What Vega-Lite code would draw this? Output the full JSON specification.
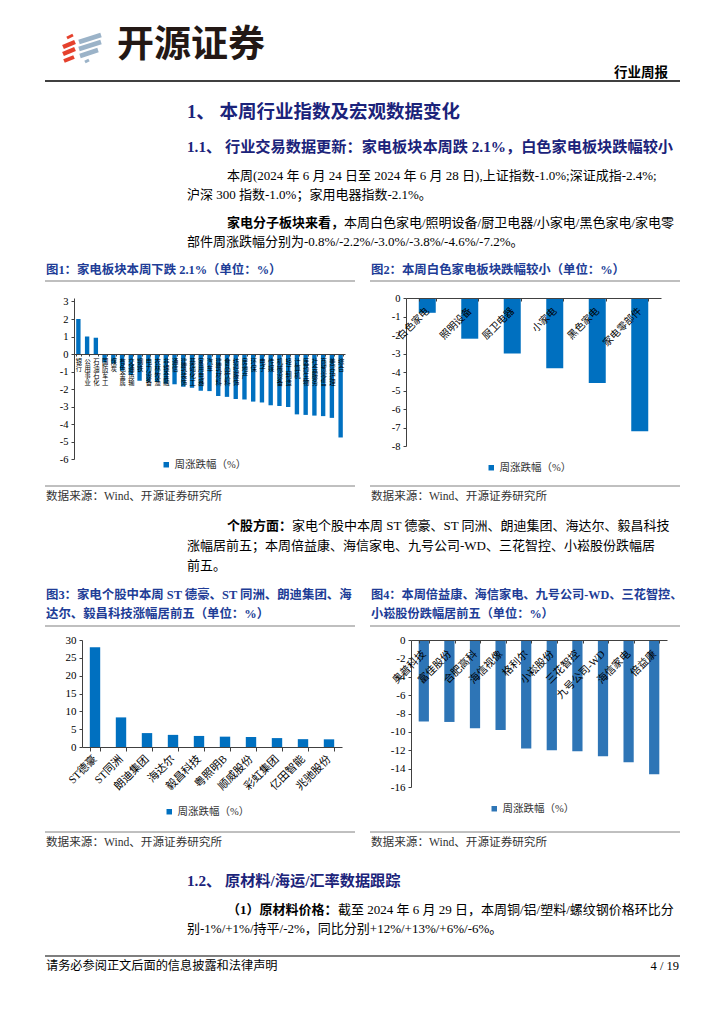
{
  "$schema": "https://vega.github.io/schema/vega-lite/v6.json",
  "width": 724,
  "height": 1024,
  "padding": 0,
  "autosize": {"type": "none"},
  "background": "white",
  "config": {
    "view": {"stroke": null},
    "font": "Liberation Serif, Noto Sans CJK SC",
    "axis": {"grid": false, "domainColor": "#404040", "tickColor": "#404040", "labelColor": "#000000", "labelFont": "Liberation Serif, Noto Sans CJK SC", "domainWidth": 1, "tickWidth": 1, "title": null},
    "legend": {"labelFont": "Liberation Serif, Noto Sans CJK SC"}
  },
  "datasets": {
    "f1": [
      {"name": "银行", "v": 2.0}, {"name": "公用事业", "v": 1.0}, {"name": "石油石化", "v": 0.93},
      {"name": "国防军工", "v": -0.48}, {"name": "煤炭", "v": -0.55}, {"name": "有色金属", "v": -0.95},
      {"name": "交通运输", "v": -1.2}, {"name": "钢铁", "v": -1.53}, {"name": "电力设备", "v": -1.58},
      {"name": "农林牧渔", "v": -1.6}, {"name": "非银金融", "v": -1.7}, {"name": "通信", "v": -1.73},
      {"name": "建筑装饰", "v": -1.87}, {"name": "基础化工", "v": -1.93}, {"name": "家用电器", "v": -2.1},
      {"name": "汽车", "v": -2.12}, {"name": "建筑材料", "v": -2.4}, {"name": "食品饮料", "v": -2.45},
      {"name": "纺织服饰", "v": -2.57}, {"name": "房地产", "v": -2.6}, {"name": "环保", "v": -2.72},
      {"name": "电子", "v": -2.77}, {"name": "传媒", "v": -2.93}, {"name": "机械设备", "v": -2.97},
      {"name": "轻工制造", "v": -3.03}, {"name": "计算机", "v": -3.45}, {"name": "医药生物", "v": -3.48},
      {"name": "社会服务", "v": -3.52}, {"name": "商贸零售", "v": -3.55}, {"name": "美容护理", "v": -3.65},
      {"name": "综合", "v": -4.77}
    ],
    "f2": [
      {"name": "白色家电", "v": -0.8}, {"name": "照明设备", "v": -2.2}, {"name": "厨卫电器", "v": -3.0},
      {"name": "小家电", "v": -3.8}, {"name": "黑色家电", "v": -4.6}, {"name": "家电零部件", "v": -7.2}
    ],
    "f3": [
      {"name": "ST德豪", "v": 28.0}, {"name": "ST同洲", "v": 8.3}, {"name": "朗迪集团", "v": 3.9},
      {"name": "海达尔", "v": 3.4}, {"name": "毅昌科技", "v": 3.1}, {"name": "粤照明B", "v": 2.9},
      {"name": "顺威股份", "v": 2.8}, {"name": "彩虹集团", "v": 2.5}, {"name": "亿田智能", "v": 2.2},
      {"name": "兆驰股份", "v": 2.15}
    ],
    "f4": [
      {"name": "奥普科技", "v": -8.87}, {"name": "富佳股份", "v": -8.92}, {"name": "合肥高科", "v": -9.6},
      {"name": "海信视像", "v": -9.8}, {"name": "格利尔", "v": -11.8}, {"name": "小崧股份", "v": -12.0},
      {"name": "三花智控", "v": -12.1}, {"name": "九号公司-WD", "v": -12.65}, {"name": "海信家电", "v": -13.3},
      {"name": "倍益康", "v": -14.6}
    ]
  },
  "data": {"values": [{}]},
  "resolve": {
    "scale": {"x": "independent", "y": "independent", "color": "independent"},
    "axis": {"x": "independent", "y": "independent"},
    "legend": {"color": "independent"}
  },
  "layer": [
    {"mark": {"type": "rule", "color": "#E5412D", "strokeWidth": 3}, "encoding": {"x": {"value": 67}, "y": {"value": 38}, "x2": {"value": 73}, "y2": {"value": 35}}},
    {"mark": {"type": "rule", "color": "#E5412D", "strokeWidth": 4.5}, "encoding": {"x": {"value": 63}, "y": {"value": 47}, "x2": {"value": 75}, "y2": {"value": 42}}},
    {"mark": {"type": "rule", "color": "#E5412D", "strokeWidth": 4.5}, "encoding": {"x": {"value": 63}, "y": {"value": 54}, "x2": {"value": 75}, "y2": {"value": 49}}},
    {"mark": {"type": "rule", "color": "#E5412D", "strokeWidth": 4}, "encoding": {"x": {"value": 64}, "y": {"value": 61}, "x2": {"value": 74}, "y2": {"value": 57}}},
    {"mark": {"type": "rule", "color": "#9BB3C8", "strokeWidth": 4.5}, "encoding": {"x": {"value": 79}, "y": {"value": 42}, "x2": {"value": 101}, "y2": {"value": 35}}},
    {"mark": {"type": "rule", "color": "#9BB3C8", "strokeWidth": 4.5}, "encoding": {"x": {"value": 79}, "y": {"value": 49}, "x2": {"value": 101}, "y2": {"value": 42}}},
    {"mark": {"type": "rule", "color": "#9BB3C8", "strokeWidth": 4.5}, "encoding": {"x": {"value": 80}, "y": {"value": 56}, "x2": {"value": 98}, "y2": {"value": 50}}},
    {"mark": {"type": "rule", "color": "#9BB3C8", "strokeWidth": 3}, "encoding": {"x": {"value": 85}, "y": {"value": 62}, "x2": {"value": 89}, "y2": {"value": 60}}},
    {"mark": {"type": "text", "text": "开源证券", "x": 117, "y": 46, "align": "left", "baseline": "middle", "font": "Noto Sans CJK SC", "fontSize": 37, "fontWeight": "bold", "color": "#231815"}, "encoding": {}},
    {"mark": {"type": "text", "text": "行业周报", "x": 668, "y": 73, "align": "right", "baseline": "middle", "font": "Noto Sans CJK SC", "fontSize": 13.5, "fontWeight": "bold", "color": "#000000"}, "encoding": {}},
    {"mark": {"type": "rule", "color": "#000000", "strokeWidth": 1.5}, "encoding": {"x": {"value": 45}, "x2": {"value": 680}, "y": {"value": 81}}},
    {"mark": {"type": "text", "text": "1、 本周行业指数及宏观数据变化", "x": 187, "y": 112, "align": "left", "baseline": "middle", "fontSize": 18.5, "fontWeight": "bold", "color": "#1B237A"}, "encoding": {}},
    {"mark": {"type": "text", "text": "1.1、 行业交易数据更新：家电板块本周跌 2.1%，白色家电板块跌幅较小", "x": 187, "y": 147, "align": "left", "baseline": "middle", "fontSize": 15.2, "fontWeight": "bold", "color": "#1B237A"}, "encoding": {}},
    {"mark": {"type": "text", "text": "本周(2024 年 6 月 24 日至 2024 年 6 月 28 日),上证指数-1.0%;深证成指-2.4%;", "x": 227, "y": 176, "align": "left", "baseline": "middle", "fontSize": 13, "color": "#000000"}, "encoding": {}},
    {"mark": {"type": "text", "text": "沪深 300 指数-1.0%；家用电器指数-2.1%。", "x": 187, "y": 195, "align": "left", "baseline": "middle", "fontSize": 13, "color": "#000000"}, "encoding": {}},
    {"mark": {"type": "text", "text": "家电分子板块来看，", "x": 227, "y": 223, "align": "left", "baseline": "middle", "fontSize": 13, "fontWeight": "bold", "color": "#000000"}, "encoding": {}},
    {"mark": {"type": "text", "text": "本周白色家电/照明设备/厨卫电器/小家电/黑色家电/家电零", "x": 344, "y": 223, "align": "left", "baseline": "middle", "fontSize": 13, "color": "#000000"}, "encoding": {}},
    {"mark": {"type": "text", "text": "部件周涨跌幅分别为-0.8%/-2.2%/-3.0%/-3.8%/-4.6%/-7.2%。", "x": 187, "y": 242, "align": "left", "baseline": "middle", "fontSize": 13, "color": "#000000"}, "encoding": {}},
    {"mark": {"type": "text", "text": "图1：家电板块本周下跌 2.1%（单位：%）", "x": 46, "y": 270, "align": "left", "baseline": "middle", "fontSize": 12.4, "fontWeight": "bold", "color": "#203C96"}, "encoding": {}},
    {"mark": {"type": "text", "text": "图2：本周白色家电板块跌幅较小（单位：%）", "x": 371, "y": 270, "align": "left", "baseline": "middle", "fontSize": 12.4, "fontWeight": "bold", "color": "#203C96"}, "encoding": {}},
    {"mark": {"type": "rule", "color": "#808080", "strokeWidth": 1.2}, "encoding": {"x": {"value": 45}, "x2": {"value": 355}, "y": {"value": 281}}},
    {"mark": {"type": "rule", "color": "#808080", "strokeWidth": 1.2}, "encoding": {"x": {"value": 370}, "x2": {"value": 680}, "y": {"value": 281}}},
    {"mark": {"type": "rule", "color": "#808080", "strokeWidth": 1}, "encoding": {"x": {"value": 45}, "x2": {"value": 355}, "y": {"value": 486}}},
    {"mark": {"type": "rule", "color": "#808080", "strokeWidth": 1}, "encoding": {"x": {"value": 370}, "x2": {"value": 680}, "y": {"value": 486}}},
    {"mark": {"type": "text", "text": "数据来源：Wind、开源证券研究所", "x": 46, "y": 497, "align": "left", "baseline": "middle", "fontSize": 11.6, "color": "#333333"}, "encoding": {}},
    {"mark": {"type": "text", "text": "数据来源：Wind、开源证券研究所", "x": 371, "y": 497, "align": "left", "baseline": "middle", "fontSize": 11.6, "color": "#333333"}, "encoding": {}},
    {"mark": {"type": "text", "text": "个股方面：", "x": 227, "y": 526, "align": "left", "baseline": "middle", "fontSize": 13, "fontWeight": "bold", "color": "#000000"}, "encoding": {}},
    {"mark": {"type": "text", "text": "家电个股中本周 ST 德豪、ST 同洲、朗迪集团、海达尔、毅昌科技", "x": 292, "y": 526, "align": "left", "baseline": "middle", "fontSize": 13, "color": "#000000"}, "encoding": {}},
    {"mark": {"type": "text", "text": "涨幅居前五；本周倍益康、海信家电、九号公司-WD、三花智控、小崧股份跌幅居", "x": 187, "y": 546, "align": "left", "baseline": "middle", "fontSize": 13, "color": "#000000"}, "encoding": {}},
    {"mark": {"type": "text", "text": "前五。", "x": 187, "y": 566, "align": "left", "baseline": "middle", "fontSize": 13, "color": "#000000"}, "encoding": {}},
    {"mark": {"type": "text", "text": "图3：家电个股中本周 ST 德豪、ST 同洲、朗迪集团、海", "x": 46, "y": 595, "align": "left", "baseline": "middle", "fontSize": 12.4, "fontWeight": "bold", "color": "#203C96"}, "encoding": {}},
    {"mark": {"type": "text", "text": "达尔、毅昌科技涨幅居前五（单位：%）", "x": 46, "y": 614, "align": "left", "baseline": "middle", "fontSize": 12.4, "fontWeight": "bold", "color": "#203C96"}, "encoding": {}},
    {"mark": {"type": "text", "text": "图4：本周倍益康、海信家电、九号公司-WD、三花智控、", "x": 371, "y": 595, "align": "left", "baseline": "middle", "fontSize": 12.2, "fontWeight": "bold", "color": "#203C96"}, "encoding": {}},
    {"mark": {"type": "text", "text": "小崧股份跌幅居前五（单位：%）", "x": 371, "y": 614, "align": "left", "baseline": "middle", "fontSize": 12.2, "fontWeight": "bold", "color": "#203C96"}, "encoding": {}},
    {"mark": {"type": "rule", "color": "#808080", "strokeWidth": 1.2}, "encoding": {"x": {"value": 45}, "x2": {"value": 355}, "y": {"value": 626}}},
    {"mark": {"type": "rule", "color": "#808080", "strokeWidth": 1.2}, "encoding": {"x": {"value": 370}, "x2": {"value": 680}, "y": {"value": 626}}},
    {"mark": {"type": "rule", "color": "#808080", "strokeWidth": 1}, "encoding": {"x": {"value": 45}, "x2": {"value": 355}, "y": {"value": 832}}},
    {"mark": {"type": "rule", "color": "#808080", "strokeWidth": 1}, "encoding": {"x": {"value": 370}, "x2": {"value": 680}, "y": {"value": 832}}},
    {"mark": {"type": "text", "text": "数据来源：Wind、开源证券研究所", "x": 46, "y": 843, "align": "left", "baseline": "middle", "fontSize": 11.6, "color": "#333333"}, "encoding": {}},
    {"mark": {"type": "text", "text": "数据来源：Wind、开源证券研究所", "x": 371, "y": 843, "align": "left", "baseline": "middle", "fontSize": 11.6, "color": "#333333"}, "encoding": {}},
    {"mark": {"type": "text", "text": "1.2、 原材料/海运/汇率数据跟踪", "x": 187, "y": 881, "align": "left", "baseline": "middle", "fontSize": 15.2, "fontWeight": "bold", "color": "#1B237A"}, "encoding": {}},
    {"mark": {"type": "text", "text": "（1）原材料价格：", "x": 227, "y": 910, "align": "left", "baseline": "middle", "fontSize": 13, "fontWeight": "bold", "color": "#000000"}, "encoding": {}},
    {"mark": {"type": "text", "text": "截至 2024 年 6 月 29 日，本周铜/铝/塑料/螺纹钢价格环比分", "x": 338, "y": 910, "align": "left", "baseline": "middle", "fontSize": 13, "color": "#000000"}, "encoding": {}},
    {"mark": {"type": "text", "text": "别-1%/+1%/持平/-2%，同比分别+12%/+13%/+6%/-6%。", "x": 187, "y": 929, "align": "left", "baseline": "middle", "fontSize": 13, "color": "#000000"}, "encoding": {}},
    {"mark": {"type": "rule", "color": "#7F7F7F", "strokeWidth": 2}, "encoding": {"x": {"value": 45}, "x2": {"value": 680}, "y": {"value": 956}}},
    {"mark": {"type": "text", "text": "请务必参阅正文后面的信息披露和法律声明", "x": 46, "y": 966, "align": "left", "baseline": "middle", "fontSize": 12.2, "color": "#000000"}, "encoding": {}},
    {"mark": {"type": "text", "text": "4 / 19", "x": 679, "y": 966, "align": "right", "baseline": "middle", "fontSize": 12.5, "color": "#000000"}, "encoding": {}},
    {
      "data": {"name": "f1"},
      "mark": {"type": "bar"},
      "encoding": {
        "x": {"field": "name", "type": "nominal", "sort": null, "scale": {"range": [74, 345], "paddingInner": 0.5, "paddingOuter": 0.25},
          "axis": {"title": null, "orient": "bottom", "offset": -670, "zindex": 1, "labelAngle": 0, "labelAlign": "center", "labelBaseline": "top", "labelFont": "Noto Sans CJK SC", "labelFontSize": 6.3, "labelLineHeight": 7.2, "labelExpr": "split(datum.label, '')", "labelPadding": 2, "labelOverlap": false, "labelBound": false, "tickBand": "extent", "tickSize": 2}},
        "y": {"field": "v", "type": "quantitative", "scale": {"domain": [-6, 3.2], "nice": false, "range": [459, 298]},
          "axis": {"title": null, "orient": "left", "offset": -74, "values": [-6, -5, -4, -3, -2, -1, 0, 1, 2, 3], "labelExpr": "'' + datum.value", "labelFontSize": 10.5, "tickSize": 3, "labelPadding": 3}},
        "color": {"datum": "周涨跌幅（%）", "scale": {"range": ["#0070C0"]},
          "legend": {"orient": "none", "legendX": 161, "legendY": 459.5, "title": null, "symbolType": "square", "symbolSize": 30, "symbolStrokeWidth": 0, "labelFontSize": 10.5, "labelColor": "#333333", "padding": 0, "labelOffset": 3}}
      }
    },
    {
      "data": {"name": "f2"},
      "mark": {"type": "bar"},
      "encoding": {
        "x": {"field": "name", "type": "nominal", "sort": null, "scale": {"range": [406, 661], "paddingInner": 0.6, "paddingOuter": 0.3},
          "axis": {"title": null, "orient": "bottom", "offset": -726, "zindex": 1, "labelAngle": -45, "labelAlign": "right", "labelBaseline": "middle", "labelFont": "Noto Sans CJK SC", "labelFontSize": 10, "labelPadding": 8, "labelOverlap": false, "labelBound": false, "tickBand": "extent", "tickSize": 3}},
        "y": {"field": "v", "type": "quantitative", "scale": {"domain": [-8, 0], "nice": false, "range": [446, 298]},
          "axis": {"title": null, "orient": "left", "offset": -406, "values": [-8, -7, -6, -5, -4, -3, -2, -1, 0], "labelExpr": "'' + datum.value", "labelFontSize": 10.5, "tickSize": 3, "labelPadding": 3}},
        "color": {"datum": "周涨跌幅（%）", "scale": {"range": ["#0070C0"]},
          "legend": {"orient": "none", "legendX": 486, "legendY": 462.5, "title": null, "symbolType": "square", "symbolSize": 30, "symbolStrokeWidth": 0, "labelFontSize": 10.5, "labelColor": "#333333", "padding": 0, "labelOffset": 3}}
      }
    },
    {
      "data": {"name": "f3"},
      "mark": {"type": "bar"},
      "encoding": {
        "x": {"field": "name", "type": "nominal", "sort": null, "scale": {"range": [82, 342], "paddingInner": 0.6, "paddingOuter": 0.3},
          "axis": {"title": null, "orient": "bottom", "offset": -277, "labelAngle": -45, "labelAlign": "right", "labelBaseline": "middle", "labelFont": "Liberation Serif, Noto Sans CJK SC", "labelFontSize": 11, "labelPadding": 6, "labelOverlap": false, "labelBound": false, "tickBand": "extent", "tickSize": 4}},
        "y": {"field": "v", "type": "quantitative", "scale": {"domain": [0, 30], "nice": false, "range": [747, 640]},
          "axis": {"title": null, "orient": "left", "offset": -82, "values": [0, 5, 10, 15, 20, 25, 30], "labelExpr": "'' + datum.value", "labelFontSize": 11, "tickSize": 3, "labelPadding": 3}},
        "color": {"datum": "周涨跌幅（%）", "scale": {"range": ["#0070C0"]},
          "legend": {"orient": "none", "legendX": 164, "legendY": 806.5, "title": null, "symbolType": "square", "symbolSize": 30, "symbolStrokeWidth": 0, "labelFontSize": 10.5, "labelColor": "#333333", "padding": 0, "labelOffset": 3}}
      }
    },
    {
      "data": {"name": "f4"},
      "mark": {"type": "bar"},
      "encoding": {
        "x": {"field": "name", "type": "nominal", "sort": null, "scale": {"range": [411, 667], "paddingInner": 0.6, "paddingOuter": 0.3},
          "axis": {"title": null, "orient": "bottom", "offset": -384, "zindex": 1, "labelAngle": -45, "labelAlign": "right", "labelBaseline": "middle", "labelFont": "Liberation Serif, Noto Sans CJK SC", "labelFontSize": 10.5, "labelPadding": 9, "labelOverlap": false, "labelBound": false, "tickBand": "extent", "tickSize": 3}},
        "y": {"field": "v", "type": "quantitative", "scale": {"domain": [-16, 0], "nice": false, "range": [787, 640]},
          "axis": {"title": null, "orient": "left", "offset": -411, "values": [-16, -14, -12, -10, -8, -6, -4, -2, 0], "labelExpr": "'' + datum.value", "labelFontSize": 11, "tickSize": 3, "labelPadding": 3}},
        "color": {"datum": "周涨跌幅（%）", "scale": {"range": ["#2E75B6"]},
          "legend": {"orient": "none", "legendX": 489, "legendY": 803.5, "title": null, "symbolType": "square", "symbolSize": 30, "symbolStrokeWidth": 0, "labelFontSize": 10.5, "labelColor": "#333333", "padding": 0, "labelOffset": 3}}
      }
    }
  ]
}
